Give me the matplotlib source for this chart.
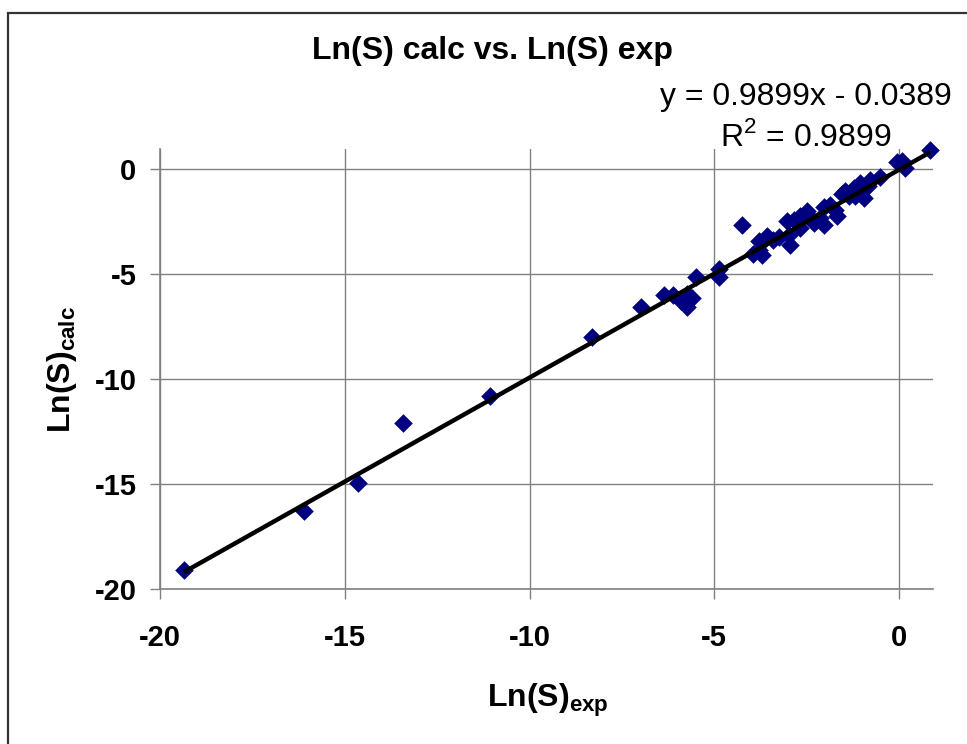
import matplotlib
matplotlib.use("Agg")
import matplotlib.pyplot as plt
from matplotlib.patches import Rectangle
import numpy as np

plt.rcParams['font.family'] = ['Liberation Sans', 'DejaVu Sans']
plt.rcParams['mathtext.fontset'] = 'custom'
plt.rcParams['mathtext.rm'] = 'Liberation Sans'
plt.rcParams['mathtext.bf'] = 'Liberation Sans:bold'
plt.rcParams['axes.unicode_minus'] = False

ln_s_exp = [-19.35, -16.10, -14.65, -13.43, -11.08, -8.32, -6.97, -6.36, -6.13, -5.87,
            -5.75, -5.60, -5.75, -5.90, -5.50, -4.88, -4.88, -4.25, -3.95, -3.71,
            -3.66, -3.57, -3.26, -2.94, -2.99, -2.85, -2.67, -2.49, -2.67, -2.31,
            -2.04, -2.13, -2.04, -1.86, -1.68, -1.73, -1.46, -1.23, -1.19, -0.96,
            -1.05, -0.78, -0.51, -0.06, 0.08, 0.17, 0.84, -1.36, -3.03, -3.80,
            -3.80, -3.42, -2.40, -1.55, -0.85]
ln_s_calc = [-19.10, -16.30, -14.95, -12.10, -10.80, -8.02, -6.57, -6.00, -6.00, -6.13,
             -5.97, -6.13, -6.55, -6.29, -5.13, -4.75, -5.15, -2.65, -4.04, -4.10,
             -3.36, -3.21, -3.24, -3.60, -3.13, -2.42, -2.26, -2.02, -2.81, -2.57,
             -2.65, -2.34, -1.79, -1.71, -2.26, -1.94, -1.07, -0.92, -1.31, -1.39,
             -0.68, -0.52, -0.39, 0.35, 0.39, 0.03, 0.90, -1.31, -2.50, -3.44,
             -3.84, -3.36, -2.30, -1.20, -0.80]
slope = 0.9899
intercept = -0.0389
ticks = [-20, -15, -10, -5, 0]

W, H = 967, 744
fig = plt.figure(figsize=(W/100, H/100), dpi=100)
ax = fig.add_axes([160/W, 1-589/H, (933-160)/W, (589-149)/H])

ax.set_xlim(-20, 0.92)
ax.set_ylim(-20, 0.95)
ax.set_xticks(ticks)
ax.set_yticks(ticks)
ax.grid(True, color='#808080', linewidth=1.0)
ax.set_axisbelow(True)
for s in ['top', 'right']:
    ax.spines[s].set_visible(False)
for s in ['left', 'bottom']:
    ax.spines[s].set_color('#808080')
    ax.spines[s].set_linewidth(1.2)
ax.tick_params(axis='both', direction='out', length=7, width=1, color='#808080',
               labelsize=21)
ax.tick_params(axis='x', pad=18)
ax.tick_params(axis='y', pad=10)
for lab in ax.get_xticklabels() + ax.get_yticklabels():
    lab.set_fontweight('bold')

ax.scatter(ln_s_exp, ln_s_calc, marker='D', s=90, color='#000080', zorder=3, linewidths=0,
           clip_on=False)
xl = np.array([min(ln_s_exp), max(ln_s_exp)])
ax.plot(xl, slope*xl + intercept, color='black', linewidth=3.2, zorder=4, solid_capstyle='butt',
        clip_on=False)

fig.text(493/W, 1-51/H, 'Ln(S) calc vs. Ln(S) exp', ha='center', va='center',
         fontsize=23, fontweight='bold')
fig.text(806/W, 1-97/H, 'y = 0.9899x - 0.0389', ha='center', va='center', fontsize=23)
fig.text(806/W, 1-137/H, r'R$^2$ = 0.9899', ha='center', va='center', fontsize=23)
fig.text(548/W, 1-700/H, r'Ln(S)$_{\mathbf{exp}}$', ha='center', va='center',
         fontsize=23, fontweight='bold')
fig.text(62/W, 1-370/H, r'Ln(S)$_{\mathbf{calc}}$', ha='center', va='center',
         fontsize=23, fontweight='bold', rotation=90)

fig.patches.append(Rectangle((7.5/W, -0.02), 1.05, 1-12.5/H+0.02, transform=fig.transFigure,
                             fill=False, edgecolor='#333333', linewidth=1.6))

fig.savefig('out.png', dpi=100)
